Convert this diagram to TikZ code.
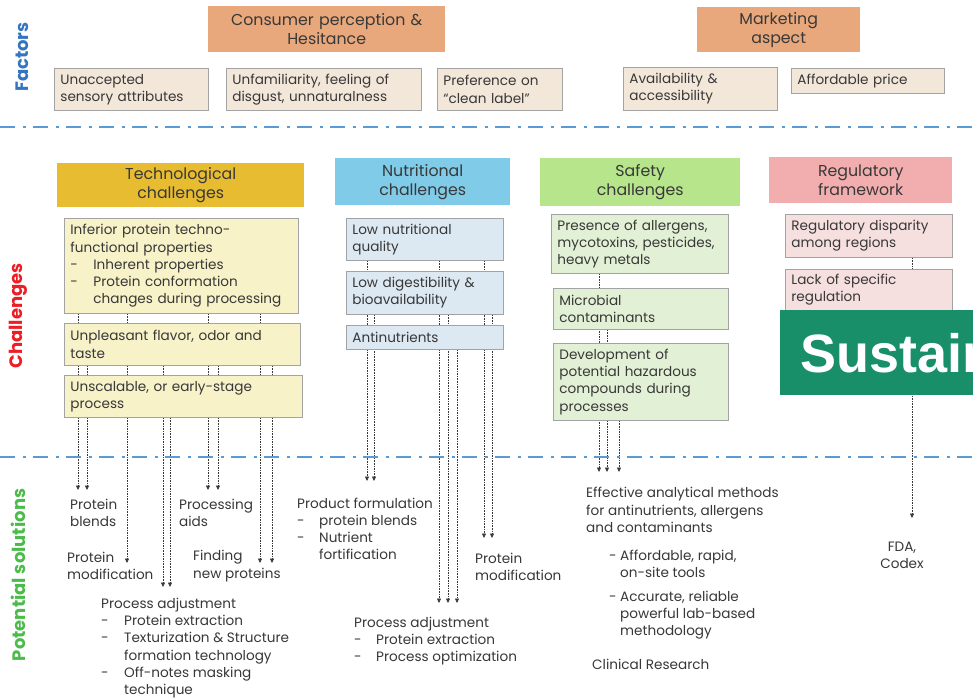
\documentclass[tikz,border=0pt]{standalone}
\usepackage{fontspec}
\setmainfont{Poppins}
\newfontfamily\bannerfont{Liberation Sans}
\usetikzlibrary{arrows.meta}
\pgfdeclarelayer{background}
\pgfsetlayers{background,main}

\definecolor{ink}{HTML}{383838}
\definecolor{edge}{HTML}{A3A3A3}
\definecolor{orangehd}{HTML}{E8A87C}
\definecolor{factorbg}{HTML}{F3E7DA}
\definecolor{techhd}{HTML}{E7BC31}
\definecolor{techbg}{HTML}{F7F2C8}
\definecolor{nutrihd}{HTML}{80CBE8}
\definecolor{nutribg}{HTML}{DCE8F2}
\definecolor{safehd}{HTML}{B6E58B}
\definecolor{safebg}{HTML}{E2F1D6}
\definecolor{reghd}{HTML}{F2AEAE}
\definecolor{regbg}{HTML}{F6DFDF}
\definecolor{sepblue}{HTML}{5B9BD5}
\definecolor{bannergreen}{HTML}{188F69}
\definecolor{lblblue}{HTML}{3474C0}
\definecolor{lblred}{HTML}{EE1C25}
\definecolor{lblgreen}{HTML}{4CBB4C}

% box placed by its corners: name, style, x1, y1, x2, y2, text
\newcommand\pbox[7]{%
  \pgfmathsetmacro\bw{#5-#3}%
  \pgfmathsetmacro\bh{#6-#4}%
  \pgfmathsetmacro\tw{#5-#3-12}%
  \node[#2, anchor=north west, minimum width=\bw pt, minimum height=\bh pt,
        text width=\tw pt] (#1) at (#3,#4) {#7};}
% dash of a bulleted line, with the gap up to the item text
\newcommand\dashitem[1]{\makebox[#1][l]{-}}

\begin{document}
\begin{tikzpicture}[x=1pt,y=-1pt,
  txt/.style={font=\fontsize{13.6}{17.2}\selectfont, text=ink},
  hdrtxt/.style={font=\fontsize{15.8}{19}\selectfont, text=ink},
  cell/.style={txt, draw=edge, line width=0.8pt, align=left, inner xsep=6pt, inner ysep=0pt},
  head/.style={hdrtxt, align=center, inner xsep=6pt, inner ysep=0pt},
  factor/.style={cell, fill=factorbg},
  tech/.style={cell, fill=techbg},
  nutri/.style={cell, fill=nutribg},
  safe/.style={cell, fill=safebg},
  reg/.style={cell, fill=regbg},
  sol/.style={txt, align=left, inner sep=0pt, anchor=west},
  side/.style={font=\fontsize{18}{22}\selectfont\bfseries, rotate=90, inner sep=0pt},
  conn/.style={draw=ink, line width=0.6pt, dash pattern=on 1.6pt off 1pt,
               -{Triangle[length=4.5pt,width=4pt]}},
  sep/.style={draw=sepblue, line width=2.6pt, dash pattern=on 15pt off 7.5pt on 3pt off 7.5pt}
]
\useasboundingbox (0,0) rectangle (973,699);
\begin{pgfonlayer}{background}
  \fill[white] (0,0) rectangle (973,699);
\end{pgfonlayer}

% side labels
\node[side, text=lblblue]  (lblfactors)   at (22,57)  {Factors};
\node[side, text=lblred]   (lblchall)     at (18,316) {Challenges};
\node[side, text=lblgreen] (lblsolutions) at (18,575) {Potential solutions};

% factors
\pbox{cons}{head, fill=orangehd}{208}{6}{445}{52}{Consumer perception \&\\Hesitance}
\pbox{mkt}{head, fill=orangehd}{697}{7}{860}{52}{Marketing\\aspect}
\pbox{f1}{factor}{54}{68}{208}{110}{Unaccepted\\sensory attributes}
\pbox{f2}{factor}{226}{68}{421}{110}{Unfamiliarity, feeling of\\disgust, unnaturalness}
\pbox{f3}{factor}{437}{68}{562}{110}{Preference on\\“clean label”}
\pbox{f4}{factor}{623}{67}{777}{110}{Availability \&\\accessibility}
\pbox{f5}{factor}{791}{68}{944}{93}{Affordable price}

% technological challenges
\pbox{th}{head, fill=techhd}{57}{163}{304}{207}{Technological\\challenges}
\pbox{t1}{tech}{64}{218}{298}{313}{Inferior protein techno-\\functional properties\\
  \dashitem{23pt}Inherent properties\\\dashitem{23pt}Protein conformation\\
  \hspace*{23pt}changes during processing}
\pbox{t2}{tech}{64}{323}{300}{365}{Unpleasant flavor, odor and\\taste}
\pbox{t3}{tech}{64}{375}{302}{417}{Unscalable, or early-stage\\process}

% nutritional challenges
\pbox{nh}{head, fill=nutrihd}{335}{158}{510}{205}{Nutritional\\challenges}
\pbox{n1}{nutri}{346}{218}{503}{260}{Low nutritional\\quality}
\pbox{n2}{nutri}{346}{271}{503}{314}{Low digestibility \&\\bioavailability}
\pbox{n3}{nutri}{346}{325}{503}{349}{Antinutrients}

% safety challenges
\pbox{sh}{head, fill=safehd}{540}{158}{740}{206}{Safety\\challenges}
\pbox{s1}{safe}{551}{214}{728}{273}{Presence of allergens,\\mycotoxins, pesticides,\\heavy metals}
\pbox{s2}{safe}{553}{288}{728}{329}{Microbial\\contaminants}
\pbox{s3}{safe}{553}{343}{728}{420}{Development of\\potential hazardous\\compounds during\\processes}

% regulatory framework
\pbox{rh}{head, fill=reghd}{769}{157}{952}{203}{Regulatory\\framework}
\pbox{r1}{reg}{785}{214}{952}{257}{Regulatory disparity\\among regions}
\pbox{r2}{reg}{785}{269}{952}{310}{Lack of specific\\regulation}

% potential solutions
\node[sol] (sblend)  at (70,513)  {Protein\\blends};
\node[sol] (saids)   at (179,513) {Processing\\aids};
\node[sol] (smod)    at (67,566)  {Protein\\modification};
\node[sol] (snew)    at (193,566) {Finding\\new proteins};
\node[sol] (sproc)   at (101,648) {Process adjustment\\
  \dashitem{23pt}Protein extraction\\\dashitem{23pt}Texturization \& Structure\\
  \hspace*{23pt}formation technology\\\dashitem{23pt}Off-notes masking\\
  \hspace*{23pt}technique};
\node[sol] (sform)   at (297,529) {Product formulation\\
  \dashitem{22pt}protein blends\\\dashitem{22pt}Nutrient\\\hspace*{22pt}fortification};
\node[sol] (snmod)   at (475,567) {Protein\\modification};
\node[sol] (snproc)  at (354,641) {Process adjustment\\
  \dashitem{22pt}Protein extraction\\\dashitem{22pt}Process optimization};
\node[sol] (sanal)   at (586,510) {Effective analytical methods\\for antinutrients, allergens\\and contaminants};
\node[sol] (srapid)  at (609,564) {\dashitem{11pt}Affordable, rapid,\\\hspace*{11pt}on-site tools};
\node[sol] (slab)    at (609,615) {\dashitem{11pt}Accurate, reliable\\\hspace*{11pt}powerful lab-based\\\hspace*{11pt}methodology};
\node[sol] (sclin)   at (592,664) {Clinical Research};
\node[txt, align=center, inner sep=0pt] (sfda) at (902,555) {FDA,\\Codex};

% arrow tips above the solutions
\coordinate (tb1) at (78,490);  \coordinate (tb2) at (87,490);
\coordinate (tm)  at (127,563);
\coordinate (tp1) at (163,587); \coordinate (tp2) at (170,587);
\coordinate (ta1) at (208,490); \coordinate (ta2) at (218,490);
\coordinate (tn1) at (260,563); \coordinate (tn2) at (272,563);
\coordinate (nf1) at (367,481); \coordinate (nf2) at (374,481);
\coordinate (np1) at (439,603); \coordinate (np2) at (448,603); \coordinate (np3) at (457,603);
\coordinate (nm1) at (484,538); \coordinate (nm2) at (492,538);
\coordinate (sa1) at (599,472); \coordinate (sa2) at (607,472); \coordinate (sa3) at (619,472);
\coordinate (rf)  at (912,518);

% connectors run behind the boxes they cross
\begin{pgfonlayer}{background}
  \draw[conn] (t1.south -| tb1) -- (tb1);
  \draw[conn] (t2.south -| tb2) -- (tb2);
  \draw[conn] (t1.south -| tm)  -- (tm);
  \draw[conn] (t2.south -| tp1) -- (tp1);
  \draw[conn] (t3.south -| tp2) -- (tp2);
  \draw[conn] (t1.south -| ta1) -- (ta1);
  \draw[conn] (t2.south -| ta2) -- (ta2);
  \draw[conn] (t1.south -| tn1) -- (tn1);
  \draw[conn] (t2.south -| tn2) -- (tn2);
  \draw[conn] (n1.south -| nf1) -- (nf1);
  \draw[conn] (n2.south -| nf2) -- (nf2);
  \draw[conn] (n1.south -| np1) -- (np1);
  \draw[conn] (n2.south -| np2) -- (np2);
  \draw[conn] (n3.south -| np3) -- (np3);
  \draw[conn] (n1.south -| nm1) -- (nm1);
  \draw[conn] (n2.south -| nm2) -- (nm2);
  \draw[conn] (s1.south -| sa1) -- (sa1);
  \draw[conn] (s2.south -| sa2) -- (sa2);
  \draw[conn] (s3.south -| sa3) -- (sa3);
  \draw[conn] (r1.south -| rf)  -- (rf);
\end{pgfonlayer}

% section separators
\draw[sep] (0,127) -- (973,127);
\draw[sep] (0,457) -- (973,457);

% banner over the right edge
\node[fill=bannergreen, anchor=north west, minimum width=193pt, minimum height=85pt, inner sep=0pt] (banner) at (780,310) {};
\begin{scope}
  \clip (780,310) rectangle (973,395);
  \node[anchor=base west, inner sep=0pt, text=white, font=\bannerfont\bfseries\fontsize{54}{54}\selectfont] (bannertext) at (800,372) {Sustain};
\end{scope}
\end{tikzpicture}
\end{document}
